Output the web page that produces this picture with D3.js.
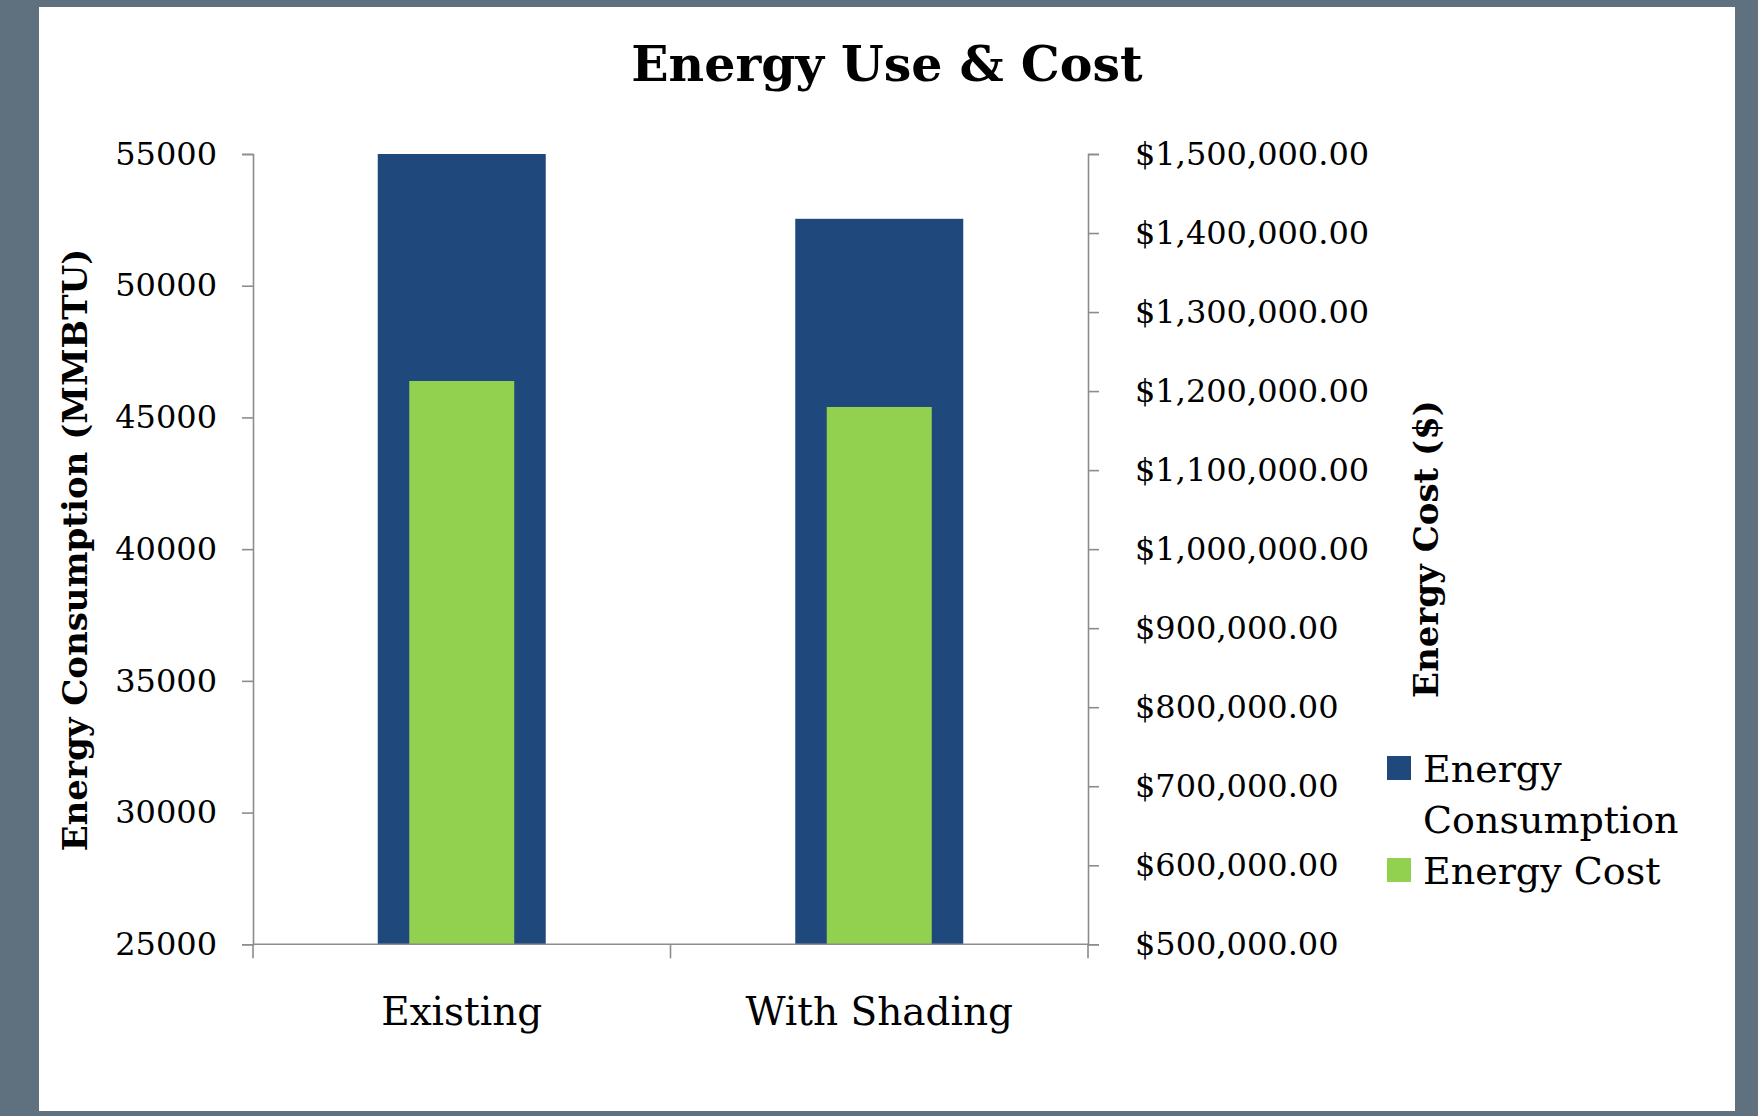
<!DOCTYPE html>
<html>
<head>
<meta charset="utf-8">
<script src="https://cdn.jsdelivr.net/npm/d3@7"></script>
<style>
  html, body { margin: 0; padding: 0; background: #5f707f; }
  svg { display: block; }
  text { font-family: "DejaVu Serif", "Liberation Serif", serif; fill: #000; }
</style>
</head>
<body>
<svg id="chart" width="1758" height="1116"></svg>
<script>
// ---- data ----
const categories = ["Existing", "With Shading"];
const consumptionValues = [55000, 52540];       // MMBTU (left axis)
const costValues = [1212800, 1179900];          // $ (right axis)
const leftTicks = [25000, 30000, 35000, 40000, 45000, 50000, 55000];
const rightTicks = [500000, 600000, 700000, 800000, 900000, 1000000, 1100000, 1200000, 1300000, 1400000, 1500000];
const seriesNames = ["Energy Consumption", "Energy Cost"];
const titleText = "Energy Use & Cost";
const leftTitle = "Energy Consumption (MMBTU)";
const rightTitle = "Energy Cost ($)";

// ---- layout ----
const svg = d3.select("#chart");
const colors = { consumption: "#1f497d", cost: "#92d050", axis: "#8c8c8c" };
const plot = { left: 253, right: 1088, top: 154, bottom: 944.3 };

svg.append("rect").attr("x", 0).attr("y", 0).attr("width", 1758).attr("height", 1116).attr("fill", "#5f707f");
svg.append("rect").attr("x", 39).attr("y", 7).attr("width", 1696).attr("height", 1104).attr("fill", "#ffffff");

const yLeft = d3.scaleLinear().domain([25000, 55000]).range([plot.bottom, plot.top]);
const yRight = d3.scaleLinear().domain([500000, 1500000]).range([plot.bottom, plot.top]);
const xCat = d3.scaleBand().domain(categories).range([plot.left, plot.right]).paddingInner(0).paddingOuter(0);
const xNavy = d3.scaleBand().domain(categories).range([plot.left, plot.right]).paddingInner(0.5976).paddingOuter(0.2988);
const xGreen = d3.scaleBand().domain(categories).range([plot.left, plot.right]).paddingInner(0.7485).paddingOuter(0.37425);

// title
svg.append("text").attr("x", 887).attr("y", 81).attr("text-anchor", "middle")
  .style("font-size", "49px").style("font-weight", "bold").text(titleText);

// bars - consumption
svg.append("g").selectAll("rect").data(categories).join("rect")
  .attr("x", d => xNavy(d)).attr("width", xNavy.bandwidth())
  .attr("y", (d, i) => yLeft(consumptionValues[i]))
  .attr("height", (d, i) => yLeft(25000) - yLeft(consumptionValues[i]))
  .attr("fill", colors.consumption);

// bars - cost
svg.append("g").selectAll("rect").data(categories).join("rect")
  .attr("x", d => xGreen(d)).attr("width", xGreen.bandwidth())
  .attr("y", (d, i) => yRight(costValues[i]))
  .attr("height", (d, i) => yRight(500000) - yRight(costValues[i]))
  .attr("fill", colors.cost);

// left axis
const gL = svg.append("g").attr("transform", `translate(${plot.left},0)`)
  .call(d3.axisLeft(yLeft).tickValues(leftTicks).tickSize(11).tickPadding(25).tickFormat(d3.format("d")));
// right axis
const gR = svg.append("g").attr("transform", `translate(${plot.right},0)`)
  .call(d3.axisRight(yRight).tickValues(rightTicks).tickSize(11).tickPadding(36)
    .tickFormat(d => "$" + d3.format(",.2f")(d)));
// bottom axis
const gB = svg.append("g").attr("transform", `translate(0,${plot.bottom})`)
  .call(d3.axisBottom(xCat).tickSize(14).tickPadding(39).tickSizeOuter(14));

[gL, gR, gB].forEach(g => {
  g.selectAll("path").attr("stroke", colors.axis).attr("stroke-width", 1.6);
  g.selectAll("line").attr("stroke", colors.axis).attr("stroke-width", 1.6);
  g.selectAll("text").style("font-family", "'DejaVu Serif', serif").attr("fill", "#000");
});
gL.selectAll("text").style("font-size", "32px");
gR.selectAll("text").style("font-size", "32px");
// bottom ticks at band boundaries instead of centers
gB.selectAll(".tick line").remove();
const boundaries = [plot.left, xCat(categories[1]), plot.right];
gB.selectAll("line.bnd").data(boundaries).join("line").attr("class", "bnd")
  .attr("x1", d => d).attr("x2", d => d).attr("y1", 0).attr("y2", 14)
  .attr("stroke", colors.axis).attr("stroke-width", 1.6);
gB.select("path.domain").attr("d", `M${plot.left},0H${plot.right}`);
gB.selectAll(".tick text").style("font-size", "39px").attr("dy", "0.71em");

// axis titles
svg.append("text").attr("transform", "translate(87,550) rotate(-90)").attr("text-anchor", "middle")
  .style("font-size", "34px").style("font-weight", "bold").text(leftTitle);
svg.append("text").attr("transform", "translate(1438,549) rotate(-90)").attr("text-anchor", "middle")
  .style("font-size", "34px").style("font-weight", "bold").text(rightTitle);

// legend
const legend = svg.append("g");
legend.append("rect").attr("x", 1387).attr("y", 756).attr("width", 24).attr("height", 24).attr("fill", colors.consumption);
legend.append("rect").attr("x", 1387).attr("y", 858).attr("width", 24).attr("height", 24).attr("fill", colors.cost);
const lt1 = legend.append("text").attr("x", 1423).attr("y", 782).style("font-size", "38px");
lt1.append("tspan").attr("x", 1423).text("Energy");
lt1.append("tspan").attr("x", 1423).attr("y", 833).text("Consumption");
legend.append("text").attr("x", 1423).attr("y", 884).style("font-size", "38px").text(seriesNames[1]);
</script>
</body>
</html>
